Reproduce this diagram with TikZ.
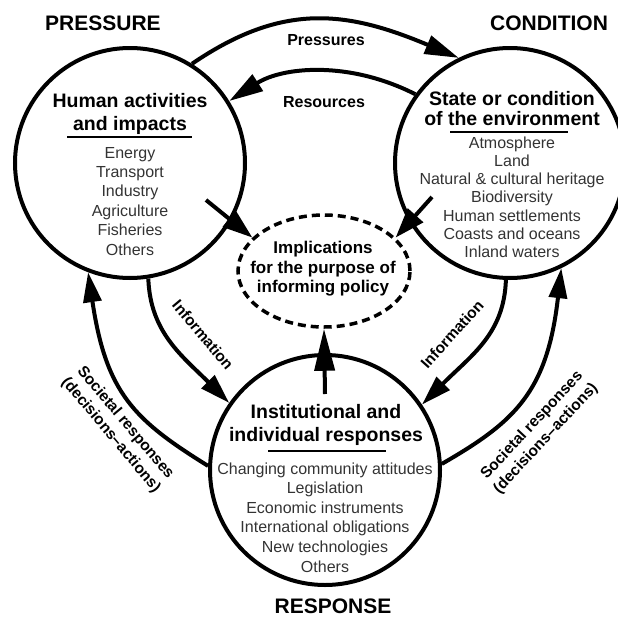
\documentclass[tikz,border=0pt]{standalone}
\usepackage{fontspec}
\setmainfont{Liberation Sans}
\usetikzlibrary{arrows.meta,shapes.geometric}
\begin{document}
\begin{tikzpicture}[x=1pt,y=-1pt,
  ring/.style={circle,draw,line width=4pt,minimum size=230pt,inner sep=0pt},
  flow/.style={line width=4pt,-{Triangle[length=30pt,width=18pt]}},
  bigflow/.style={line width=4pt,-{Triangle[length=34pt,width=19pt]}},
  heading/.style={font=\fontsize{21}{25}\selectfont\bfseries,anchor=base},
  ttl/.style={font=\fontsize{19.5}{23}\selectfont\bfseries,anchor=base},
  item/.style={font=\fontsize{16}{19}\selectfont,anchor=base,text=black!80},
  lbl/.style={font=\fontsize{16}{19}\selectfont\bfseries,anchor=base},
  rlbl/.style={font=\fontsize{15.5}{19}\selectfont\bfseries,align=center,inner sep=0pt},
  etxt/.style={font=\fontsize{17}{20}\selectfont\bfseries,anchor=base},
  uline/.style={line width=2pt}]
\useasboundingbox (0,0) rectangle (618,616);

% circles
\node[ring] (P) at (130,163) {};
\node[ring] (C) at (510,163) {};
\node[ring] (R) at (325,470) {};
\node[ellipse,draw,line width=3.5pt,dash pattern=on 8pt off 5pt,
      minimum width=172pt,minimum height=112pt,inner sep=0pt] (ell) at (324,271) {};

% headings
\node[heading] (hP) at (103,30) {PRESSURE};
\node[heading] (hC) at (549,30) {CONDITION};
\node[heading] (hR) at (333,613) {RESPONSE};

% left circle text
\node[ttl] (tP1) at (130,107) {Human activities};
\node[ttl] (tP2) at (130,130) {and impacts};
\draw[uline] (67,137) -- (192,137);
\foreach \t [count=\i from 0] in {Energy,Transport,Industry,Agriculture,Fisheries,Others}
  \node[item] (pi\i) at (130,{158+19.4*\i}) {\t};

% right circle text
\node[ttl] (tC1) at (512,105) {State or condition};
\node[ttl] (tC2) at (512,125) {of the environment};
\draw[uline] (450,132) -- (568,132);
\foreach \t [count=\i from 0] in {Atmosphere,Land,Natural \& cultural heritage,Biodiversity,Human settlements,Coasts and oceans,Inland waters}
  \node[item] (ci\i) at (512,{148+18.3*\i}) {\t};

% bottom circle text
\node[ttl] (tR1) at (326,418) {Institutional and};
\node[ttl] (tR2) at (326,441) {individual responses};
\draw[uline] (268,451) -- (386,451);
\foreach \t [count=\i from 0] in {Changing community attitudes,Legislation,Economic instruments,International obligations,New technologies,Others}
  \node[item] (ri\i) at (325,{474+19.6*\i}) {\t};

% ellipse text
\node[etxt] (e1) at (323,253) {Implications};
\node[etxt] (e2) at (323,273) {for the purpose of};
\node[etxt] (e3) at (323,292) {informing policy};

% top arcs
\draw[bigflow] (P.58) .. controls +(91,-62) and +(-112,-47) .. (C.116);
\draw[bigflow] (C.144) .. controls +(-67,-34) and +(53,-34) .. (P.32);
\node[lbl] (lPr) at (326,45) {Pressures};
\node[lbl] (lRe) at (324,107) {Resources};

% information arcs
\draw[flow] (P.279) .. controls +(2,54) and +(-47,-47) .. (R.145);
\draw[flow] (C.268) .. controls +(-2,54) and +(50,-50) .. (R.34);
\node[rlbl,rotate=-50] (lI1) at (203,335) {Information};
\node[rlbl,rotate=48] (lI2) at (452,334) {Information};

% societal responses arcs
\draw[flow] (R.178) .. controls +(-74,-46) and +(18,121) .. (P.249);
\draw[flow] (R.3) .. controls +(73,-42) and +(-14,124) .. (C.296);
\node[rlbl,rotate=-50] (lS1) at (118,429) {Societal responses\\(decisions--actions)};
\node[rlbl,rotate=47] (lS2) at (539,432) {Societal responses\\(decisions--actions)};

% arrows into the ellipse
\coordinate (sP) at (206,200);
\coordinate (sC) at (432,197);
\coordinate (sR) at (325,394);
\draw[line width=4pt,-{Triangle[length=30pt,width=20pt]}] (sP) -- (ell.155);
\draw[line width=4pt,-{Triangle[length=30pt,width=20pt]}] (sC) -- (ell.25);
\draw[line width=4pt,-{Triangle[length=42pt,width=20pt]}] (sR) -- (ell.south);
\end{tikzpicture}
\end{document}
